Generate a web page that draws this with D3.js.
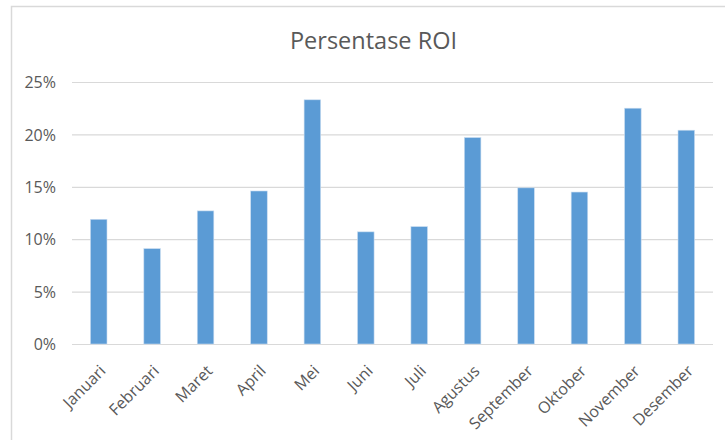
<!DOCTYPE html>
<html>
<head>
<meta charset="utf-8">
<script src="https://cdn.jsdelivr.net/npm/d3@7"></script>
<style>
  html, body { margin: 0; padding: 0; background: #fff; }
  svg { display: block; }
  text { font-family: "Open Sans", "DejaVu Sans", sans-serif; fill: #595959; }
</style>
</head>
<body>
<svg id="chart" width="725" height="440"></svg>
<script>
const title = "Persentase ROI";
const months = ["Januari","Februari","Maret","April","Mei","Juni","Juli","Agustus","September","Oktober","November","Desember"];
const roi = [0.119, 0.091, 0.127, 0.146, 0.233, 0.107, 0.112, 0.197, 0.149, 0.145, 0.225, 0.204];
const yTicks = [0, 0.05, 0.10, 0.15, 0.20, 0.25];

const svg = d3.select("#chart");
const W = 725, H = 440;
const plot = { left: 72, right: 713, top: 82, bottom: 344 };

svg.append("rect").attr("width", W).attr("height", H).attr("fill", "#fff");
// chart area border (extends past the visible window on right/bottom)
svg.append("rect")
  .attr("x", 11.5).attr("y", 6.5).attr("width", 800).attr("height", 600)
  .attr("fill", "none").attr("stroke", "#d9d9d9").attr("stroke-width", 1.5);

const x = d3.scaleBand().domain(months).range([plot.left, plot.right])
  .paddingInner(0.69).paddingOuter(0.345);
const y = d3.scaleLinear().domain([0, 0.25]).range([plot.bottom, plot.top]);

// gridlines + y labels
const yAxis = d3.axisLeft(y).tickValues(yTicks)
  .tickFormat(d3.format(".0%"))
  .tickSize(-(plot.right - plot.left)).tickPadding(16);
const gy = svg.append("g").attr("transform", `translate(${plot.left},0)`).call(yAxis);
gy.select(".domain").remove();
gy.selectAll(".tick line").attr("stroke", "#d9d9d9").attr("stroke-width", 1.2);
gy.selectAll(".tick text").attr("font-size", 16).attr("fill", "#595959")
  .attr("x", 56 - plot.left).attr("dy", "0.36em")
  .style("font-family", "'Open Sans', sans-serif");

// bars
svg.append("g").selectAll("rect").data(roi).join("rect")
  .attr("x", (d, i) => x(months[i]))
  .attr("width", x.bandwidth())
  .attr("y", d => y(d))
  .attr("height", d => y(0) - y(d))
  .attr("fill", "#5b9bd5")
  .attr("stroke", "#c9dcf0").attr("stroke-width", 0.6);

// x labels
const xAxis = d3.axisBottom(x).tickSize(0).tickPadding(0);
const gx = svg.append("g").attr("transform", `translate(0,${plot.bottom})`).call(xAxis);
gx.select(".domain").remove();
gx.selectAll(".tick text")
  .attr("font-size", 16).attr("fill", "#595959")
  .attr("text-anchor", "end")
  .attr("y", 0).attr("dy", 0)
  .attr("transform", "translate(8,28) rotate(-45)")
  .style("font-family", "'Open Sans', sans-serif");

// title
svg.append("text").attr("x", 373.5).attr("y", 49.3)
  .attr("text-anchor", "middle").attr("font-size", 23.5)
  .attr("fill", "#595959").text(title);
</script>
</body>
</html>
